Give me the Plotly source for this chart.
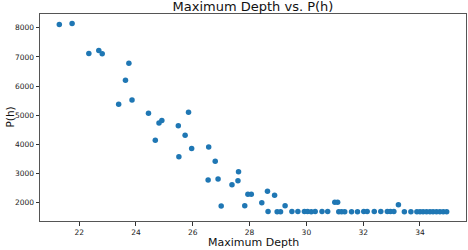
import plotly.graph_objects as go

max_depth = [21.30, 21.75, 22.34, 22.69, 22.81, 23.75, 23.63, 23.39, 23.86, 24.44,
             24.91, 24.81, 25.85, 25.49, 25.73, 24.68, 25.96, 25.51, 26.56, 26.79,
             27.61, 26.54, 26.89, 27.59, 27.38, 27.94, 28.06, 28.63, 28.88, 28.43,
             27.00, 27.83, 29.25, 31.00, 31.10, 33.24,
             28.65, 28.97, 29.09, 29.49, 29.70, 29.93, 30.04, 30.17, 30.31, 30.55,
             30.75, 31.14, 31.24, 31.35, 31.59, 31.80, 32.02, 32.14, 32.39, 32.62,
             32.85, 32.96, 33.08, 33.45, 33.68, 33.89, 34.00, 34.11, 34.23, 34.35,
             34.46, 34.58, 34.70, 34.82, 34.94]
p_h = [8113, 8147, 7121, 7224, 7111, 6780, 6198, 5378, 5525, 5065,
       4820, 4735, 5104, 4636, 4318, 4147, 3863, 3576, 3908, 3419,
       3063, 2779, 2813, 2756, 2619, 2291, 2291, 2393, 2256, 2003,
       1891, 1900, 1900, 2017, 2017, 1930,
       1696, 1690, 1690, 1696, 1696, 1696, 1696, 1690, 1696, 1696,
       1696, 1690, 1690, 1690, 1690, 1690, 1696, 1696, 1696, 1696,
       1696, 1696, 1696, 1690, 1690, 1690, 1690, 1690, 1690, 1690,
       1690, 1690, 1690, 1690, 1690]

x_ticks = [22, 24, 26, 28, 30, 32, 34]
y_ticks = [2000, 3000, 4000, 5000, 6000, 7000, 8000]

FONT = "DejaVu Sans"

fig = go.Figure()
fig.add_trace(go.Scatter(
    x=max_depth, y=p_h, mode="markers",
    marker=dict(color="#1f77b4", size=5.5, line=dict(width=0)),
    showlegend=False,
))

axis_common = dict(
    showgrid=False, zeroline=False, showline=True, mirror=True,
    linecolor="#555555", linewidth=1, ticks="outside", ticklen=3.5,
    tickcolor="#333333", tickwidth=1,
    tickfont=dict(family=FONT, size=7.5, color="#222222"),
)

fig.update_layout(
    width=468, height=250,
    margin=dict(l=40, r=2, t=13.5, b=29),
    paper_bgcolor="white", plot_bgcolor="white",
    font=dict(family=FONT),
    title=dict(text="Maximum Depth vs. P(h)", x=0.5406, xanchor="center",
               yref="container", y=1 - 6 / 250, yanchor="middle",
               font=dict(family=FONT, size=13, color="#111111")),
    xaxis=dict(range=[20.62, 35.62], tickvals=x_ticks,
               ticktext=[str(v) for v in x_ticks], **axis_common),
    yaxis=dict(range=[1374, 8472], tickvals=y_ticks,
               ticktext=[str(v) for v in y_ticks], **axis_common),
    annotations=[
        dict(text="Maximum Depth", xref="paper", yref="paper", x=0.5, y=0,
             yshift=-21, xanchor="center", yanchor="middle", showarrow=False,
             font=dict(family=FONT, size=11, color="#111111")),
        dict(text="P(h)", xref="paper", yref="paper", x=0, y=0.5,
             xshift=-31, xanchor="center", yanchor="middle", textangle=-90,
             showarrow=False, font=dict(family=FONT, size=10.5, color="#111111")),
    ],
)

fig.write_html("out.html", config={"displayModeBar": False},
               post_script="document.body.style.margin='0';document.body.style.padding='0';")
